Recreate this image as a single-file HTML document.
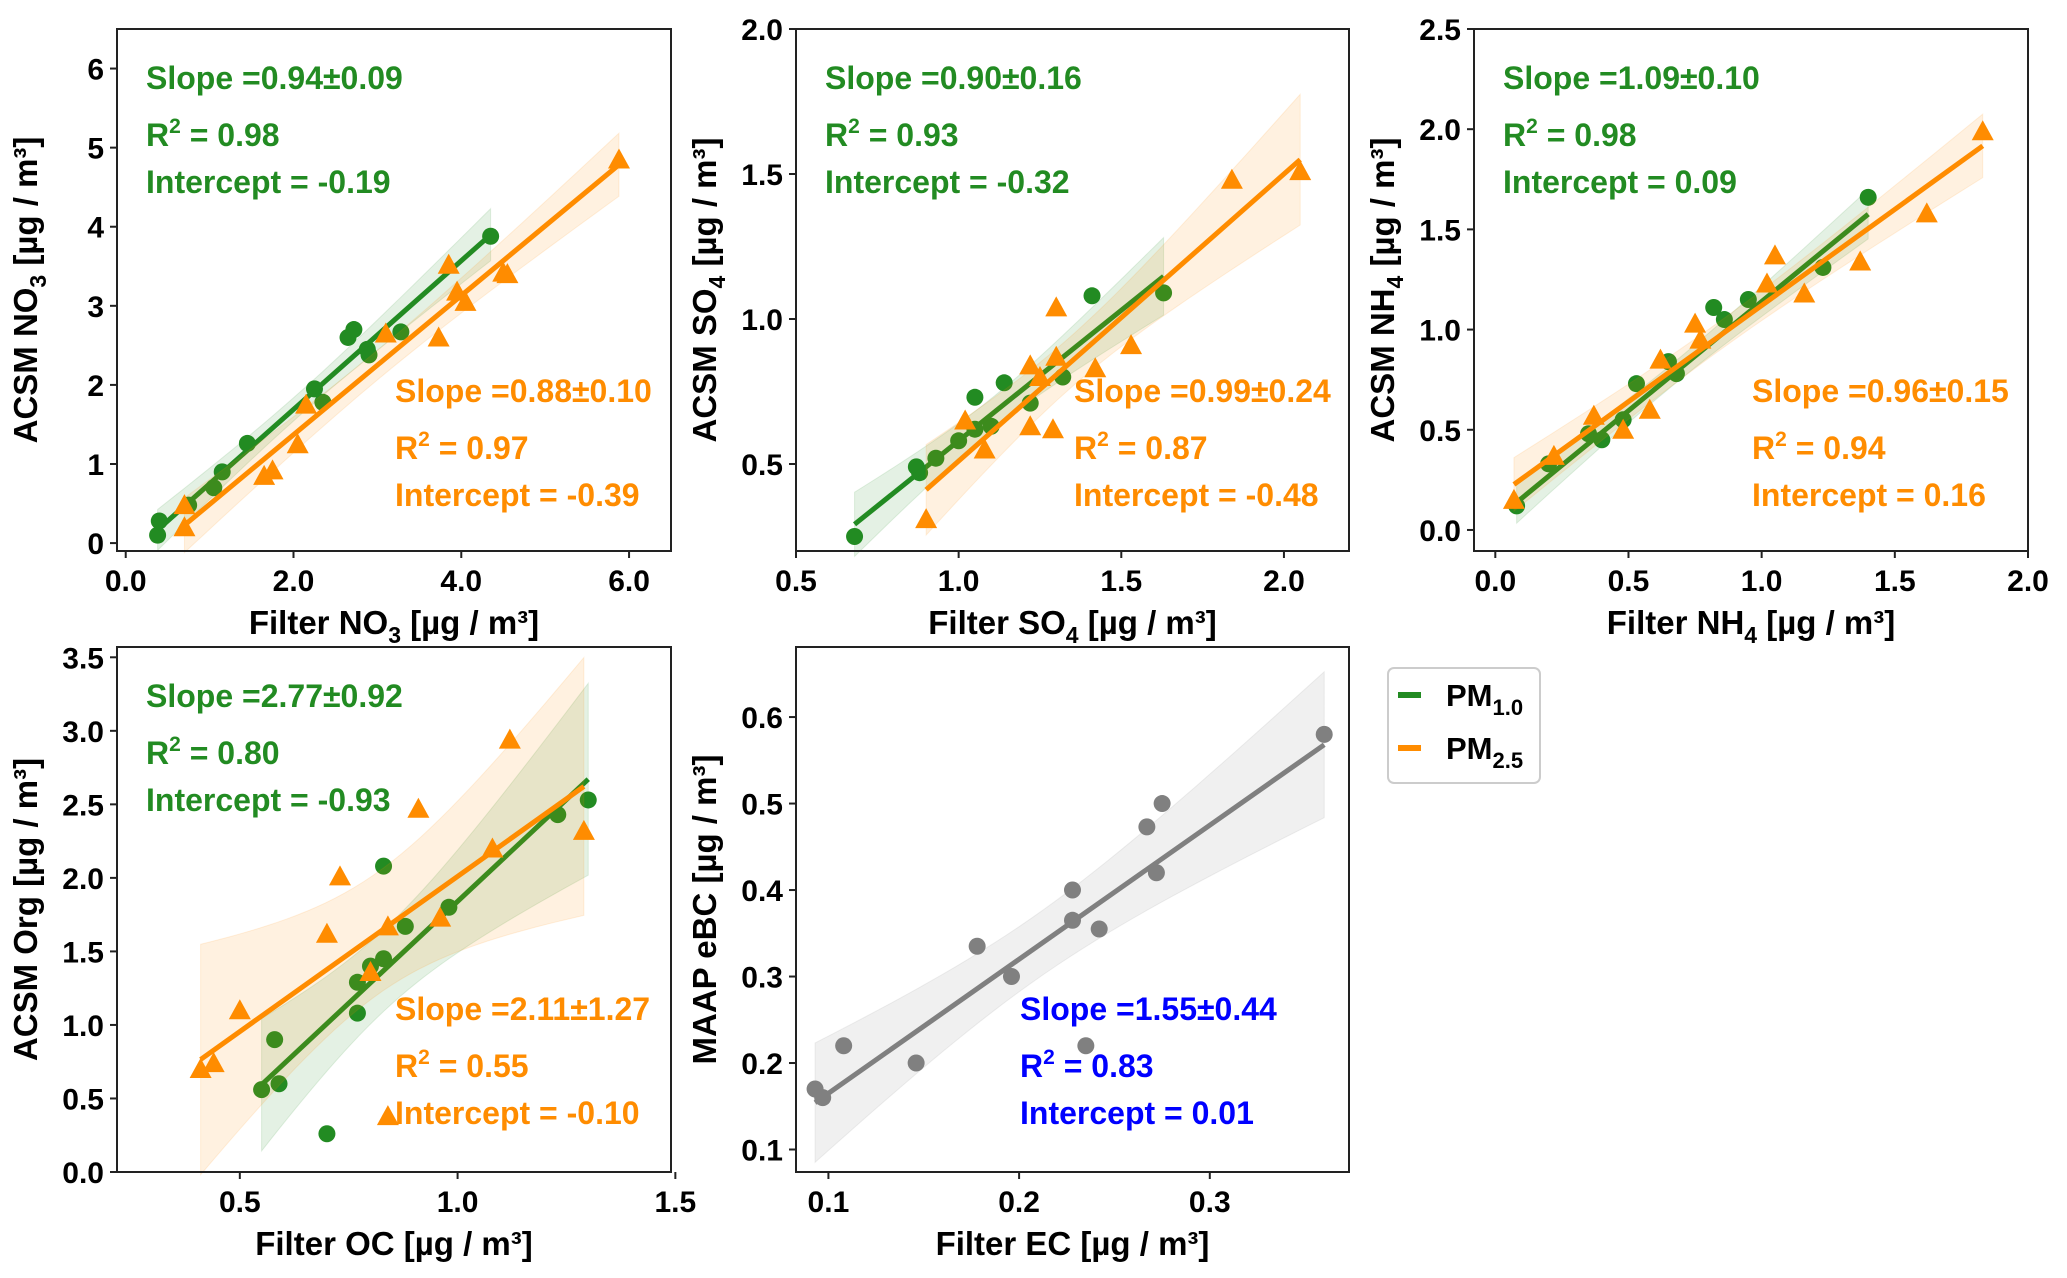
<!DOCTYPE html>
<html><head><meta charset="utf-8"><style>
body{margin:0;background:#fff}
svg{display:block;font-family:"Liberation Sans",Arial,sans-serif;font-weight:bold}
</style></head><body>
<svg id="fig" width="2067" height="1278" viewBox="0 0 2067 1278" xmlns="http://www.w3.org/2000/svg"></svg>
<script>
const G='#228b22',O='#ff8c00',GR='#808080';
// Panel 1 NO3
const no3GreenX=[0.38,0.4,0.75,1.05,1.15,1.45,2.25,2.35,2.65,2.72,2.88,2.9,3.28,4.35];
const no3GreenY=[0.1,0.28,0.48,0.7,0.9,1.26,1.95,1.78,2.6,2.7,2.45,2.38,2.67,3.88];
const no3OrangeX=[0.7,0.7,1.65,1.75,2.05,2.15,3.1,3.73,3.85,3.95,4.05,4.5,4.55,5.88];
const no3OrangeY=[0.2,0.48,0.85,0.92,1.25,1.75,2.65,2.6,3.52,3.18,3.05,3.42,3.4,4.85];
const no3Fit=[[0.94,-0.19],[0.88,-0.39]];
// Panel 2 SO4
const so4GreenX=[0.68,0.87,0.88,0.93,1.0,1.05,1.05,1.1,1.14,1.22,1.32,1.41,1.63];
const so4GreenY=[0.25,0.49,0.47,0.52,0.58,0.62,0.73,0.63,0.78,0.71,0.8,1.08,1.09];
const so4OrangeX=[0.9,1.02,1.08,1.22,1.22,1.25,1.29,1.3,1.3,1.42,1.53,1.84,2.05];
const so4OrangeY=[0.31,0.65,0.55,0.84,0.63,0.8,0.62,1.04,0.87,0.83,0.91,1.48,1.51];
const so4Fit=[[0.90,-0.32],[0.99,-0.48]];
// Panel 3 NH4
const nh4GreenX=[0.08,0.2,0.35,0.4,0.48,0.53,0.65,0.68,0.82,0.86,0.95,1.23,1.4];
const nh4GreenY=[0.12,0.33,0.48,0.45,0.55,0.73,0.84,0.78,1.11,1.05,1.15,1.31,1.66];
const nh4OrangeX=[0.07,0.22,0.37,0.48,0.58,0.62,0.75,0.77,1.02,1.05,1.16,1.37,1.62,1.83];
const nh4OrangeY=[0.15,0.37,0.57,0.5,0.6,0.85,1.03,0.95,1.23,1.37,1.18,1.34,1.58,1.99];
const nh4Fit=[[1.09,0.05],[0.96,0.16]];
// Panel 4 Org
const orgGreenX=[0.55,0.58,0.59,0.7,0.77,0.77,0.8,0.83,0.83,0.88,0.98,1.23,1.3];
const orgGreenY=[0.56,0.9,0.6,0.26,1.08,1.29,1.4,1.45,2.08,1.67,1.8,2.43,2.53];
const orgOrangeX=[0.41,0.44,0.5,0.7,0.73,0.8,0.84,0.84,0.91,0.96,1.08,1.12,1.29];
const orgOrangeY=[0.7,0.74,1.1,1.62,2.01,1.36,1.67,0.38,2.47,1.73,2.2,2.94,2.32];
const orgFit=[[2.77,-0.93],[2.11,-0.10]];
// Panel 5 BC
const bcX=[0.093,0.097,0.108,0.146,0.178,0.196,0.228,0.228,0.235,0.242,0.267,0.272,0.275,0.36];
const bcY=[0.17,0.16,0.22,0.2,0.335,0.3,0.4,0.365,0.22,0.355,0.473,0.42,0.5,0.58];
const bcFit=[1.55,0.01];

const svg=document.getElementById('fig');
const NS='http://www.w3.org/2000/svg';
function mk(tag,at,parent){const e=document.createElementNS(NS,tag);for(const k in at)e.setAttribute(k,at[k]);(parent||svg).appendChild(e);return e;}

function panel(p){
  const g=mk('g',{});
  
  
  const sx=v=>p.L+(v-p.xl[0])/(p.xl[1]-p.xl[0])*(p.R-p.L);
  const sy=v=>p.B-(v-p.yl[0])/(p.yl[1]-p.yl[0])*(p.B-p.T);
  p.series.forEach(s=>{
    const x0=Math.min(...s.x),x1=Math.max(...s.x),n=s.x.length;
    const mx=s.x.reduce((a,b)=>a+b,0)/n;const sxx=s.x.reduce((a,b)=>a+(b-mx)*(b-mx),0);
    const up=[],dn=[];
    for(let i=0;i<=40;i++){const xv=x0+(x1-x0)*i/40;const yv=s.fit[0]*xv+s.fit[1];
      const hw=s.k*Math.sqrt(1/n+(xv-mx)*(xv-mx)/sxx);
      up.push(sx(xv)+','+sy(yv+hw));dn.unshift(sx(xv)+','+sy(yv-hw));}
    const band=mk('polygon',{points:up.concat(dn).join(' '),fill:s.c,'fill-opacity':0.12,stroke:s.c,'stroke-opacity':0.12},g);
    
    
    s.x.forEach((xv,i)=>{
      let m;
      if(s.tri){const cx=sx(xv),cy=sy(s.y[i]);m=mk('polygon',{points:`${cx},${cy-11} ${cx-11},${cy+9} ${cx+11},${cy+9}`,fill:s.c},g);}
      else m=mk('circle',{cx:sx(xv),cy:sy(s.y[i]),r:8.5,fill:s.c},g);
      
      
    });
    const ln=mk('line',{x1:sx(x0),y1:sy(s.fit[0]*x0+s.fit[1]),x2:sx(x1),y2:sy(s.fit[0]*x1+s.fit[1]),stroke:s.c,'stroke-width':5},g);
    
    
  });
  const fr=mk('rect',{x:p.L,y:p.T,width:p.R-p.L,height:p.B-p.T,fill:'none',stroke:'#222','stroke-width':2},g);
  
  
  p.xt.forEach((t,i)=>{const x=sx(t);mk('line',{x1:x,x2:x,y1:p.B,y2:p.B+7,stroke:'#222','stroke-width':2},g);
    const tx=mk('text',{x:x,y:p.B+40,'text-anchor':'middle','font-size':30},g);tx.textContent=p.xtl[i];
    
    });
  p.yt.forEach((t,i)=>{const y=sy(t);mk('line',{x1:p.L-7,x2:p.L,y1:y,y2:y,stroke:'#222','stroke-width':2},g);
    const tx=mk('text',{x:p.L-13,y:y+11,'text-anchor':'end','font-size':30},g);tx.textContent=p.ytl[i];
    
    });
  const xl=mk('text',{x:(p.L+p.R)/2,y:p.B+83,'text-anchor':'middle','font-size':33},g);xl.innerHTML=p.xlab;
  
  
  const yx=p.L-80,yy=(p.T+p.B)/2;
  const yl=mk('text',{x:yx,y:yy,'text-anchor':'middle','font-size':33,transform:`rotate(-90 ${yx} ${yy})`},g);yl.innerHTML=p.ylab;
  
  
  p.ann.forEach(a=>{
    const lines=[`Slope =${a.s}`,`R<tspan dy="-13" font-size="21">2</tspan><tspan dy="13"> = ${a.r}</tspan>`,`Intercept = ${a.i}`];
    const ys=[0,57,104];
    lines.forEach((l,j)=>{const t=mk('text',{x:p.L+a.dx,y:p.T+a.dy+ys[j],fill:a.c,'font-size':32},g);t.innerHTML=l;
      
      });
  });
}
const U='[µg / m³]';
const sub=s=>`<tspan dy="9" font-size="23">${s}</tspan><tspan dy="-9">`;
const r1={T:29,B:551},r2={T:647,B:1172};
panel({name:'no3-panel',L:117,R:671,...r1,xl:[-0.104,6.5],yl:[-0.1,6.5],xt:[0,2,4,6],xtl:['0.0','2.0','4.0','6.0'],yt:[0,1,2,3,4,5,6],ytl:['0','1','2','3','4','5','6'],
 xlab:`Filter NO${sub('3')} ${U}</tspan>`,ylab:`ACSM NO${sub('3')} ${U}</tspan>`,
 series:[{id:'pm1',x:no3GreenX,y:no3GreenY,fit:no3Fit[0],c:G,k:0.55},{id:'pm25',x:no3OrangeX,y:no3OrangeY,fit:no3Fit[1],c:O,k:0.7,tri:1}],
 ann:[{dx:29,dy:60,c:G,s:'0.94±0.09',r:'0.98',i:'-0.19'},{dx:278,dy:373,c:O,s:'0.88±0.10',r:'0.97',i:'-0.39'}]});
panel({name:'so4-panel',L:796,R:1349,...r1,xl:[0.5,2.2],yl:[0.2,2.0],xt:[0.5,1,1.5,2],xtl:['0.5','1.0','1.5','2.0'],yt:[0.5,1,1.5,2],ytl:['0.5','1.0','1.5','2.0'],
 xlab:`Filter SO${sub('4')} ${U}</tspan>`,ylab:`ACSM SO${sub('4')} ${U}</tspan>`,
 series:[{id:'pm1',x:so4GreenX,y:so4GreenY,fit:so4Fit[0],c:G,k:0.2},{id:'pm25',x:so4OrangeX,y:so4OrangeY,fit:so4Fit[1],c:O,k:0.32,tri:1}],
 ann:[{dx:29,dy:60,c:G,s:'0.90±0.16',r:'0.93',i:'-0.32'},{dx:278,dy:373,c:O,s:'0.99±0.24',r:'0.87',i:'-0.48'}]});
panel({name:'nh4-panel',L:1474,R:2028,...r1,xl:[-0.08,2.0],yl:[-0.105,2.5],xt:[0,0.5,1,1.5,2],xtl:['0.0','0.5','1.0','1.5','2.0'],yt:[0,0.5,1,1.5,2,2.5],ytl:['0.0','0.5','1.0','1.5','2.0','2.5'],
 xlab:`Filter NH${sub('4')} ${U}</tspan>`,ylab:`ACSM NH${sub('4')} ${U}</tspan>`,
 series:[{id:'pm1',x:nh4GreenX,y:nh4GreenY,fit:nh4Fit[0],c:G,k:0.2},{id:'pm25',x:nh4OrangeX,y:nh4OrangeY,fit:nh4Fit[1],c:O,k:0.27,tri:1}],
 ann:[{dx:29,dy:60,c:G,s:'1.09±0.10',r:'0.98',i:'0.09'},{dx:278,dy:373,c:O,s:'0.96±0.15',r:'0.94',i:'0.16'}]});
panel({name:'org-panel',L:117,R:671,...r2,xl:[0.218,1.49],yl:[0,3.57],xt:[0.5,1,1.5],xtl:['0.5','1.0','1.5'],yt:[0,0.5,1,1.5,2,2.5,3,3.5],ytl:['0.0','0.5','1.0','1.5','2.0','2.5','3.0','3.5'],
 xlab:`Filter OC ${U}`,ylab:`ACSM Org ${U}`,
 series:[{id:'pm1',x:orgGreenX,y:orgGreenY,fit:orgFit[0],c:G,k:1.0},{id:'pm25',x:orgOrangeX,y:orgOrangeY,fit:orgFit[1],c:O,k:1.5,tri:1}],
 ann:[{dx:29,dy:60,c:G,s:'2.77±0.92',r:'0.80',i:'-0.93'},{dx:278,dy:373,c:O,s:'2.11±1.27',r:'0.55',i:'-0.10'}]});
panel({name:'bc-panel',L:796,R:1349,...r2,xl:[0.083,0.373],yl:[0.074,0.681],xt:[0.1,0.2,0.3],xtl:['0.1','0.2','0.3'],yt:[0.1,0.2,0.3,0.4,0.5,0.6],ytl:['0.1','0.2','0.3','0.4','0.5','0.6'],
 xlab:`Filter EC ${U}`,ylab:`MAAP eBC ${U}`,
 series:[{id:'bc',x:bcX,y:bcY,fit:bcFit,c:GR,k:0.14}],
 ann:[{dx:224,dy:373,c:'#0000ff',s:'1.55±0.44',r:'0.83',i:'0.01'}]});
const lg=mk('g',{});


mk('rect',{x:1388,y:668,width:152,height:115,rx:6,fill:'#fff',stroke:'#ccc','stroke-width':2},lg);
[[G,'1.0',695],[O,'2.5',748]].forEach(([c,s,y])=>{
  const e=mk('g',{},lg);
  
  
  mk('line',{x1:1398,x2:1421,y1:y,y2:y,stroke:c,'stroke-width':6},e);
  const t=mk('text',{x:1446,y:y+11,'font-size':31},e);t.innerHTML=`PM<tspan dy="9" font-size="22">${s}</tspan>`;
});
</script>
</body></html>
